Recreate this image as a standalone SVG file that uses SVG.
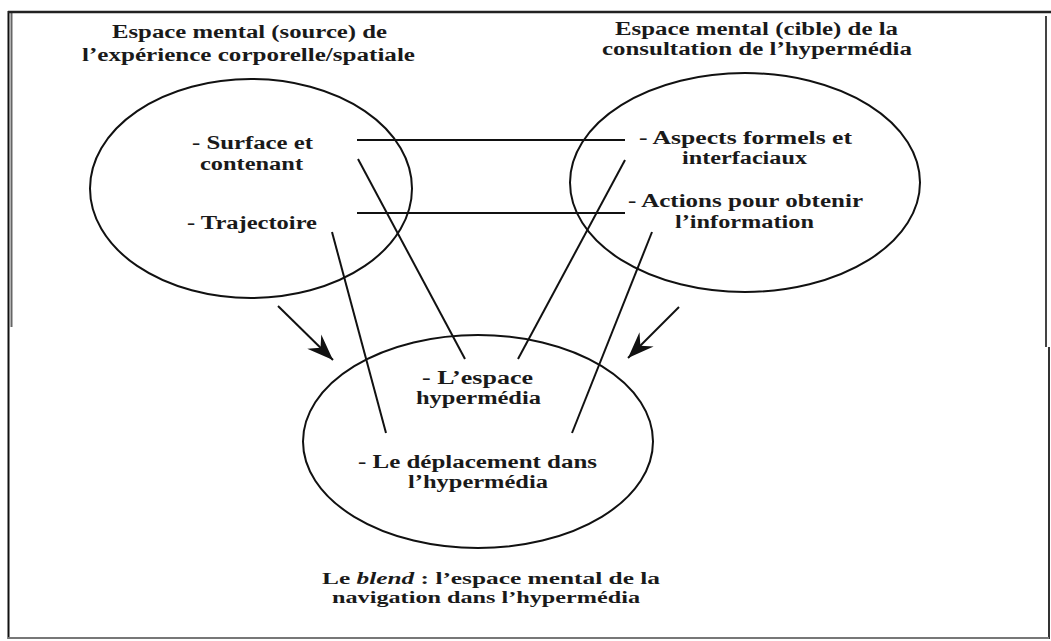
<svg xmlns="http://www.w3.org/2000/svg" width="1051" height="641" viewBox="0 0 1051 641">
<style>
.t{font-family:"Liberation Serif","Times New Roman",serif;font-size:18px;font-weight:bold;fill:#1a1a1a}
.c{font-size:16.5px}
.sp{fill:none;stroke:#111;stroke-width:2}
.ln{stroke:#111;stroke-width:2;fill:none}
</style>
<defs>
<marker id="ah" markerUnits="userSpaceOnUse" markerWidth="30" markerHeight="30" viewBox="-22 -10 24 20" refX="0" refY="0" orient="auto">
<path d="M0,0 L-21,-8 L-14,0 L-21,8 Z" fill="#111"/>
</marker>
</defs>
<rect width="1051" height="641" fill="#fff"/>
<g id="frame">
<line x1="8.5" y1="11" x2="8.5" y2="639" stroke="#111" stroke-width="2"/>
<line x1="11.5" y1="12" x2="11.5" y2="327" stroke="#666" stroke-width="2"/>
<line x1="8" y1="12" x2="1051" y2="12" stroke="#222" stroke-width="2.5"/>
<line x1="1046" y1="16" x2="1046" y2="347" stroke="#444" stroke-width="2"/>
<line x1="1049" y1="347" x2="1049" y2="639" stroke="#333" stroke-width="2"/>
<line x1="8" y1="638" x2="1049" y2="638" stroke="#777" stroke-width="2"/>
</g>
<g id="source">
<ellipse class="sp" cx="251" cy="188.5" rx="161" ry="109.5"/>
<text class="t" x="112" y="38" textLength="275" lengthAdjust="spacingAndGlyphs">Espace mental (source) de</text>
<text class="t" x="82" y="61" textLength="333" lengthAdjust="spacingAndGlyphs">l’expérience corporelle/spatiale</text>
<text class="t" x="192" y="149" textLength="121" lengthAdjust="spacingAndGlyphs">- Surface et</text>
<text class="t" x="200" y="170" textLength="103" lengthAdjust="spacingAndGlyphs">contenant</text>
<text class="t" x="187" y="229" textLength="130" lengthAdjust="spacingAndGlyphs">- Trajectoire</text>
</g>
<g id="cible">
<ellipse class="sp" cx="745" cy="182.5" rx="175" ry="109.5"/>
<text class="t" x="615" y="35" textLength="283" lengthAdjust="spacingAndGlyphs">Espace mental (cible) de la</text>
<text class="t" x="602" y="55" textLength="310" lengthAdjust="spacingAndGlyphs">consultation de l’hypermédia</text>
<text class="t" x="639" y="144" textLength="213" lengthAdjust="spacingAndGlyphs">- Aspects formels et</text>
<text class="t" x="682" y="164" textLength="125" lengthAdjust="spacingAndGlyphs">interfaciaux</text>
<text class="t" x="628" y="207" textLength="235" lengthAdjust="spacingAndGlyphs">- Actions pour obtenir</text>
<text class="t" x="675" y="228" textLength="139" lengthAdjust="spacingAndGlyphs">l’information</text>
</g>
<g id="blend">
<ellipse class="sp" cx="478" cy="441.5" rx="175" ry="106.5"/>
<text class="t" x="422" y="384" textLength="111" lengthAdjust="spacingAndGlyphs">- L’espace</text>
<text class="t" x="416" y="404" textLength="125" lengthAdjust="spacingAndGlyphs">hypermédia</text>
<text class="t" x="358" y="468" textLength="239" lengthAdjust="spacingAndGlyphs">- Le déplacement dans</text>
<text class="t" x="408" y="488" textLength="140" lengthAdjust="spacingAndGlyphs">l’hypermédia</text>
<text class="t c" x="322" y="584" textLength="338" lengthAdjust="spacingAndGlyphs">Le <tspan font-style="italic">blend</tspan> : l’espace mental de la</text>
<text class="t c" x="332" y="603" textLength="308" lengthAdjust="spacingAndGlyphs">navigation dans l’hypermédia</text>
</g>
<g id="connectors">
<line class="ln" x1="357" y1="140" x2="625" y2="140"/>
<line class="ln" x1="357" y1="213" x2="625" y2="213"/>
<line class="ln" x1="358" y1="159" x2="465" y2="359"/>
<line class="ln" x1="332" y1="232" x2="386" y2="433"/>
<line class="ln" x1="625" y1="160" x2="518" y2="359"/>
<line class="ln" x1="652" y1="232" x2="572" y2="433"/>
<line class="ln" x1="278" y1="306" x2="333" y2="360" marker-end="url(#ah)"/>
<line class="ln" x1="679" y1="307" x2="628" y2="358" marker-end="url(#ah)"/>
</g>
</svg>
